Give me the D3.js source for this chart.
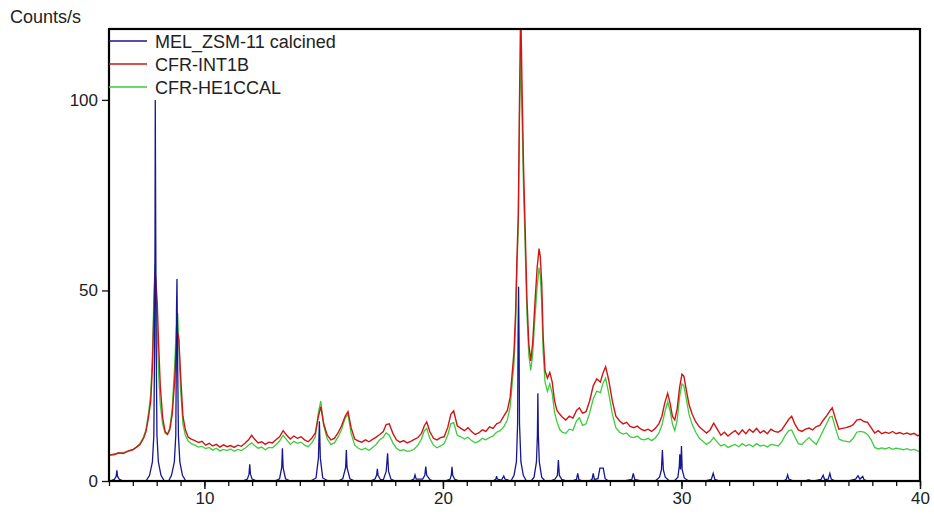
<!DOCTYPE html>
<html>
<head>
<meta charset="utf-8">
<script src="https://cdn.jsdelivr.net/npm/d3@7"></script>
<style>
  body { margin: 0; background: #fff; }
  svg text { font-family: "Liberation Sans", Arial, sans-serif; fill: #222; }
</style>
</head>
<body>
<script>
// 2-theta grid shared by the two measured patterns
var angles = [
  6.0, 6.2, 6.4, 6.6, 6.8, 7.0, 7.15, 7.3, 7.45, 7.55, 7.65, 7.75, 7.82, 7.88, 7.93,
  7.97, 8.02, 8.08, 8.15, 8.25, 8.35, 8.45, 8.55, 8.65, 8.75, 8.82, 8.88, 8.93, 9.0, 9.1, 9.2, 9.32, 9.45,
  9.6, 9.75, 9.9, 10.05, 10.2, 10.35, 10.5, 10.65, 10.8, 10.95, 11.1, 11.25, 11.4, 11.55, 11.7, 11.85, 11.98, 12.1, 12.25, 12.4,
  12.55, 12.7, 12.85, 13.0, 13.15, 13.3, 13.45, 13.6, 13.75, 13.9, 14.05, 14.2, 14.35, 14.5, 14.65,
  14.78, 14.88, 15.0, 15.15, 15.3, 15.45, 15.6, 15.75, 15.9, 16.02, 16.15, 16.3, 16.45, 16.6, 16.75, 16.9, 17.05, 17.2, 17.35, 17.5,
  17.62, 17.75, 17.9, 18.05, 18.2, 18.35, 18.5, 18.65, 18.8, 18.95, 19.1, 19.22, 19.32, 19.45, 19.6, 19.75, 19.9,
  20.05, 20.2, 20.33, 20.45, 20.6, 20.75, 20.9, 21.05, 21.2, 21.35, 21.5, 21.65, 21.8, 21.95, 22.1, 22.25, 22.4, 22.55, 22.7, 22.82,
  22.98, 23.05, 23.1, 23.16, 23.21, 23.26, 23.32, 23.38, 23.44, 23.52, 23.6, 23.68, 23.76, 23.86, 23.95, 24.03, 24.08, 24.14, 24.2, 24.28,
  24.38, 24.48, 24.58, 24.68, 24.78, 24.9,
  25.0, 25.15, 25.3, 25.45, 25.6, 25.72, 25.85, 26.0, 26.15, 26.3, 26.45, 26.6, 26.72, 26.82, 26.95, 27.1, 27.25, 27.4, 27.55, 27.7,
  27.85, 28.0, 28.15, 28.3, 28.45, 28.6, 28.75, 28.9,
  29.05, 29.18, 29.3, 29.42, 29.52, 29.62, 29.72, 29.82, 29.92, 30.02, 30.1, 30.2, 30.32, 30.45, 30.6, 30.75, 30.9, 31.05, 31.2, 31.35,
  31.5, 31.65, 31.8, 31.95,
  32.1, 32.25, 32.4, 32.55, 32.7, 32.85, 33.0, 33.15, 33.3, 33.45, 33.6, 33.75, 33.9, 34.05, 34.2, 34.35, 34.5, 34.62, 34.75, 34.9,
  35.05, 35.2, 35.35, 35.5, 35.65, 35.8, 35.95,
  36.1, 36.22, 36.32, 36.45, 36.6, 36.75, 36.9, 37.05, 37.2, 37.35, 37.5, 37.65, 37.8, 37.95, 38.1, 38.25, 38.4, 38.55, 38.7, 38.85,
  39.0, 39.15, 39.3, 39.45, 39.6, 39.75, 39.9, 40.0
];

// CFR-INT1B (red)
var int1bCounts = [
  6.8, 6.9, 7.4, 7.2, 7.9, 8.2, 8.9, 9.6, 11.2, 13, 16.5, 21, 30, 44, 55,
  52, 47, 36, 25, 16.5, 13, 12.2, 13.5, 17.5, 26, 35, 39, 37, 28, 17, 13.5, 11.5, 11,
  10.6, 10.1, 10.4, 9.4, 9.9, 9.2, 9.6, 8.9, 9.5, 9.0, 9.3, 8.8, 9.4, 9.1, 9.9, 10.8, 12.0, 11.0, 10.0, 10.3,
  9.6, 10.2, 10.0, 10.8, 11.6, 13.2, 12.0, 11.0, 11.8, 11.2, 11.6, 10.8, 10.3, 11.2, 12.6,
  17.0, 19.5, 15.0, 12.0, 10.8, 11.2, 12.6, 14.5, 17.0, 18.2, 14.0, 11.0, 10.5, 10.2, 10.8, 10.3, 10.9, 11.5, 12.2, 13.0,
  14.8, 15.0, 12.5, 10.8, 10.2, 10.6, 10.0, 10.4, 10.9, 11.4, 12.5, 14.5, 15.5, 13.0, 11.2, 10.8, 11.4,
  11.6, 14.0, 17.5, 18.4, 14.5, 13.8, 13.2, 14.0, 13.0, 12.2, 12.6, 13.4, 13.0, 14.2, 13.8, 15.0, 15.4, 17.0, 18.5, 22,
  34, 45, 58, 70, 100, 125, 102, 82, 68, 48, 36, 31.5, 36, 47, 56, 61, 59, 52, 38, 29,
  27, 28.5, 26, 21, 18.5, 17.5,
  16.8, 16.0, 17.0, 16.5, 18.5, 19.2, 17.8, 18.2, 21.0, 25.0, 26.8, 26.0, 28.5, 30.0, 26.5, 21.0, 17.0, 15.8, 15.0, 15.4,
  14.3, 14.0, 14.4, 13.6, 13.2, 13.6, 13.0, 13.8,
  15.0, 17.0, 20.5, 23.0, 20.5, 17.0, 16.0, 19.0, 24.5, 28.0, 27.5, 24.0, 20.0, 17.5, 15.5, 14.2, 13.4, 12.6, 13.4, 15.2,
  13.6, 12.0, 12.8, 11.8,
  12.6, 13.2, 12.2, 13.4, 12.4, 13.6, 12.8, 13.8, 12.6, 13.2, 12.4, 13.6, 13.0, 12.8, 13.4, 14.8, 16.2, 17.0, 15.0, 13.4,
  13.0, 13.6, 13.9, 13.4, 14.3, 14.6, 16.0,
  17.2, 18.4, 19.2, 16.5, 13.6, 13.8, 14.0, 14.3, 14.8, 16.0, 16.2, 15.6, 15.4, 14.0, 12.6, 13.2, 12.4, 12.8, 12.5, 13.0,
  12.4, 12.7, 12.3, 12.6, 12.2, 12.5, 11.9, 12.0
];

// CFR-HE1CCAL (green)
var he1ccalCounts = [
  6.7, 7.1, 7.2, 7.5, 7.7, 8.3, 8.8, 9.8, 11.6, 13.5, 17.5, 23, 33, 48, 57,
  50, 40, 28, 20, 15, 12.5, 12.3, 14, 19, 30, 40, 44, 36, 24, 15, 12, 10.5, 9.8,
  9.4, 8.9, 9.1, 8.5, 8.8, 8.1, 8.6, 7.9, 8.3, 8.0, 8.4, 7.8, 8.3, 8.0, 8.6, 9.4, 10.0, 9.3, 8.6, 8.9,
  8.2, 8.8, 8.7, 9.5, 10.5, 12.0, 10.8, 9.6, 10.4, 9.9, 10.2, 9.4, 9.0, 10.0, 11.6,
  18.0, 21.0, 14.5, 11.0, 9.6, 10.0, 11.5, 13.5, 16.5, 17.5, 12.5, 9.4, 8.6, 8.2, 8.6, 8.0, 8.8, 9.6, 10.8, 11.5,
  12.6, 12.0, 10.0, 8.6, 8.0, 8.2, 7.8, 7.9, 8.4, 9.4, 11.0, 13.2, 13.8, 11.2, 9.4, 8.7, 9.2,
  9.8, 12.0, 15.0, 15.3, 12.0, 11.6, 11.0, 11.5, 10.6, 10.0, 10.4, 11.2, 10.8, 11.4, 11.8, 12.8, 13.2, 14.2, 16.0, 19.5,
  31, 42, 55, 67, 95, 112, 95, 76, 63, 44, 33, 29, 33, 43, 51, 56, 54, 47, 34, 26,
  23.5, 25.5, 23, 18, 15.5, 13.5,
  12.8, 12.5, 13.6, 13.3, 15.8, 16.6, 14.6, 15.0, 17.8, 21.5, 23.6, 23.2, 25.8, 27.0, 23.0, 17.6, 14.0, 12.8, 12.3, 12.6,
  11.6, 11.4, 11.8, 11.0, 10.8, 11.2, 10.6, 11.3,
  12.5, 14.6, 18.0, 20.8, 18.5, 15.0, 13.2, 16.0, 22.0, 25.5, 25.0, 21.6, 17.4, 14.8, 12.8, 11.2, 10.4, 9.6, 10.2, 11.4,
  10.2, 9.2, 9.6, 8.8,
  9.2, 9.6, 9.0, 9.8, 9.2, 9.6, 9.0, 9.8, 9.2, 9.4, 8.9, 9.6, 9.4, 9.2, 10.2, 12.0, 13.2, 13.4, 11.6, 9.8,
  9.6, 10.6, 11.4, 10.4, 9.6, 11.4, 13.4,
  15.2, 16.8, 17.0, 14.0, 11.0, 10.6, 10.4, 10.2, 11.2, 12.8, 13.0, 12.8, 12.2, 10.8, 8.8, 8.4, 8.7, 8.4, 8.8, 8.3,
  8.6, 8.4, 8.2, 8.5, 8.1, 8.3, 7.9, 7.7
];

// MEL_ZSM-11 calcined reference pattern (blue): [2theta, counts], null = gap
var melPattern = [
  [6.05,0],[6.22,0.4],[6.3,1.2],[6.33,2.8],[6.36,1.2],[6.44,0.4],[6.6,0], null,
  [7.55,0],[7.7,1.5],[7.82,5],[7.88,12],[7.91,35],[7.93,65],[7.94,100],[7.96,65],[7.98,35],[8.01,12],[8.07,5],[8.18,1.5],[8.32,0], null,
  [8.5,0],[8.62,1.5],[8.74,5],[8.8,12],[8.82,30],[8.83,45],[8.85,53],[8.86,45],[8.88,30],[8.91,12],[8.97,5],[9.08,1.5],[9.22,0], null,
  [11.6,0],[11.8,0.5],[11.87,1.8],[11.9,4.4],[11.93,1.8],[12.0,0.5],[12.2,0], null,
  [12.45,0],[12.6,0], null,
  [12.95,0],[13.15,0.6],[13.24,3.5],[13.27,8.6],[13.3,3.5],[13.4,0.6],[13.6,0], null,
  [14.45,0],[14.68,0.8],[14.78,6],[14.82,15.7],[14.86,6],[14.96,0.8],[15.2,0], null,
  [15.6,0],[15.8,0.6],[15.92,3.5],[15.95,8.1],[15.98,3.5],[16.1,0.6],[16.3,0], null,
  [16.95,0],[17.15,0.5],[17.22,1.5],[17.25,3.2],[17.28,1.5],[17.38,0.4],[17.5,0.3],[17.62,2.5],[17.68,7.3],[17.72,2.5],[17.82,0.5],[18.0,0], null,
  [18.15,0],[18.25,0], null,
  [18.6,0],[18.78,0.5],[18.83,1.6],[18.88,0.5],[19.15,0.5],[19.24,1.5],[19.28,3.8],[19.32,1.5],[19.45,0.4],[19.6,0], null,
  [19.8,0],[19.9,0], null,
  [20.1,0],[20.3,0.5],[20.35,1.5],[20.38,3.7],[20.41,1.5],[20.5,0.4],[20.7,0], null,
  [21.8,0],[22.1,0],[22.22,0.5],[22.25,1.3],[22.28,0.5],[22.45,0.2],[22.55,1.3],[22.6,0.5],[22.85,0],
  [22.98,1.5],[23.08,5],[23.13,15],[23.15,38],[23.17,51],[23.19,38],[23.21,15],[23.27,5],[23.37,1.5],[23.5,0],
  [23.7,0],[23.82,1],[23.92,5],[23.96,12],[23.98,23],[24.0,12],[24.04,5],[24.14,1],[24.28,0],
  [24.5,0],[24.7,0.5],[24.8,1.5],[24.84,5.5],[24.88,1.5],[24.98,0.4],[25.2,0], null,
  [25.4,0],[25.6,0.4],[25.65,2],[25.7,0.4],[25.85,0], null,
  [26.1,0],[26.25,0.4],[26.3,2],[26.35,0.4],[26.5,0.6],[26.58,3.4],[26.72,3.4],[26.8,0.6],[26.95,0], null,
  [27.1,0],[27.2,0], null,
  [27.6,0],[27.92,0.4],[27.98,2],[28.04,0.4],[28.3,0], null,
  [28.5,0],[28.6,0], null,
  [28.9,0],[29.08,1],[29.16,3],[29.2,8.1],[29.24,3],[29.32,1],[29.5,0], null,
  [29.7,0],[29.85,1],[29.91,4],[29.93,7],[29.96,3],[29.98,5],[30.0,9.2],[30.03,3],[30.12,0.8],[30.3,0], null,
  [30.5,0],[30.6,0], null,
  [31.0,0],[31.25,0.4],[31.33,2],[31.4,0.4],[31.6,0], null,
  [31.9,0],[32.1,0], null,
  [32.5,0],[32.6,0], null,
  [33.0,0],[33.1,0], null,
  [33.4,0],[33.9,0],[34.3,0],[34.4,0.5],[34.45,1.6],[34.5,0.5],[34.7,0], null,
  [34.9,0],[35.2,0],[35.3,0.3],[35.35,0.3],[35.5,0], null,
  [35.55,0],[35.85,0.4],[35.94,1.5],[36.0,0.4],[36.15,0.5],[36.22,2],[36.28,0.5],[36.45,0], null,
  [36.65,0],[37.0,0],[37.3,0.5],[37.4,1.4],[37.48,0.5],[37.6,1.2],[37.65,0.4],[37.8,0], null,
  [38.0,0],[38.15,0], null,
  [38.35,0],[38.5,0], null,
  [38.7,0],[38.85,0], null,
  [39.05,0],[39.2,0], null,
  [39.4,0],[39.55,0]
];

var seriesNames = ['MEL_ZSM-11 calcined', 'CFR-INT1B', 'CFR-HE1CCAL'];
var seriesColors = ['#17178f', '#d01515', '#3ccc3c'];
var xMajorTicks = [10, 20, 30, 40];
var xMinorTicks = d3.range(6, 41);
var yTicks = [0, 50, 100];

var width = 934, height = 514;
var margin = { top: 29, right: 14, bottom: 33, left: 109 };

var svg = d3.select('body')
  .append('svg')
  .attr('width', width)
  .attr('height', height);

var x = d3.scaleLinear().domain([6, 40]).range([margin.left, width - margin.right]);
var y = d3.scaleLinear().domain([0, 118.6]).range([height - margin.bottom, margin.top]);

svg.append('clipPath').attr('id', 'plot')
  .append('rect')
  .attr('x', margin.left).attr('y', margin.top)
  .attr('width', x.range()[1] - margin.left)
  .attr('height', y.range()[0] - margin.top);

// measured patterns
var n = Math.min(angles.length, int1bCounts.length, he1ccalCounts.length);
var measured = d3.range(n).map(function(i) {
  return { a: angles[i], red: int1bCounts[i], green: he1ccalCounts[i] };
});

var plot = svg.append('g').attr('clip-path', 'url(#plot)');

plot.append('path')
  .datum(measured)
  .attr('fill', 'none')
  .attr('stroke', seriesColors[2])
  .attr('stroke-width', 1.3)
  .attr('d', d3.line().x(function(d) { return x(d.a); }).y(function(d) { return y(d.green); }));

plot.append('path')
  .datum(measured)
  .attr('fill', 'none')
  .attr('stroke', seriesColors[1])
  .attr('stroke-width', 1.4)
  .attr('d', d3.line().x(function(d) { return x(d.a); }).y(function(d) { return y(d.red); }));

plot.append('path')
  .datum(melPattern)
  .attr('fill', 'none')
  .attr('stroke', seriesColors[0])
  .attr('stroke-width', 1.3)
  .attr('d', d3.line()
    .defined(function(d) { return d !== null; })
    .x(function(d) { return x(d[0]); })
    .y(function(d) { return y(d[1]); }));

// axes
var xAxisY = y(0);
svg.append('g')
  .attr('transform', 'translate(0,' + xAxisY + ')')
  .call(d3.axisBottom(x).tickValues(xMinorTicks).tickSize(5).tickFormat(''))
  .call(function(g) { g.select('.domain').remove(); g.selectAll('line').attr('stroke', '#111').attr('stroke-width', 1.3); });

svg.append('g')
  .attr('transform', 'translate(0,' + xAxisY + ')')
  .call(d3.axisBottom(x).tickValues(xMajorTicks).tickSize(8).tickPadding(3).tickFormat(d3.format('d')))
  .call(function(g) {
    g.select('.domain').remove();
    g.selectAll('line').attr('stroke', '#111').attr('stroke-width', 1.5);
    g.selectAll('text').attr('font-size', 17).attr('font-family', null);
  });

svg.append('g')
  .attr('transform', 'translate(' + margin.left + ',0)')
  .call(d3.axisLeft(y).tickValues(yTicks).tickSize(7).tickPadding(4).tickFormat(d3.format('d')))
  .call(function(g) {
    g.select('.domain').remove();
    g.selectAll('line').attr('stroke', '#111').attr('stroke-width', 1.3);
    g.selectAll('text').attr('font-size', 17).attr('font-family', null);
  });

// frame
svg.append('rect')
  .attr('x', margin.left).attr('y', margin.top)
  .attr('width', x.range()[1] - margin.left)
  .attr('height', y.range()[0] - margin.top)
  .attr('fill', 'none')
  .attr('stroke', '#000')
  .attr('stroke-width', 2.2);

// axis title
svg.append('text')
  .attr('x', 10)
  .attr('y', 23)
  .attr('font-size', 18)
  .text('Counts/s');

// legend
var legend = svg.selectAll('g.legend')
  .data(seriesNames)
  .enter().append('g')
  .attr('class', 'legend')
  .attr('transform', function(d, i) { return 'translate(' + margin.left + ',' + (41 + i * 23) + ')'; });

legend.append('line')
  .attr('x1', 0).attr('x2', 38)
  .attr('y1', 0).attr('y2', 0)
  .attr('stroke', function(d, i) { return seriesColors[i]; })
  .attr('stroke-width', 1.3);

legend.append('text')
  .attr('x', 46)
  .attr('y', 6.5)
  .attr('font-size', 18)
  .text(function(d) { return d; });
</script>
</body>
</html>
